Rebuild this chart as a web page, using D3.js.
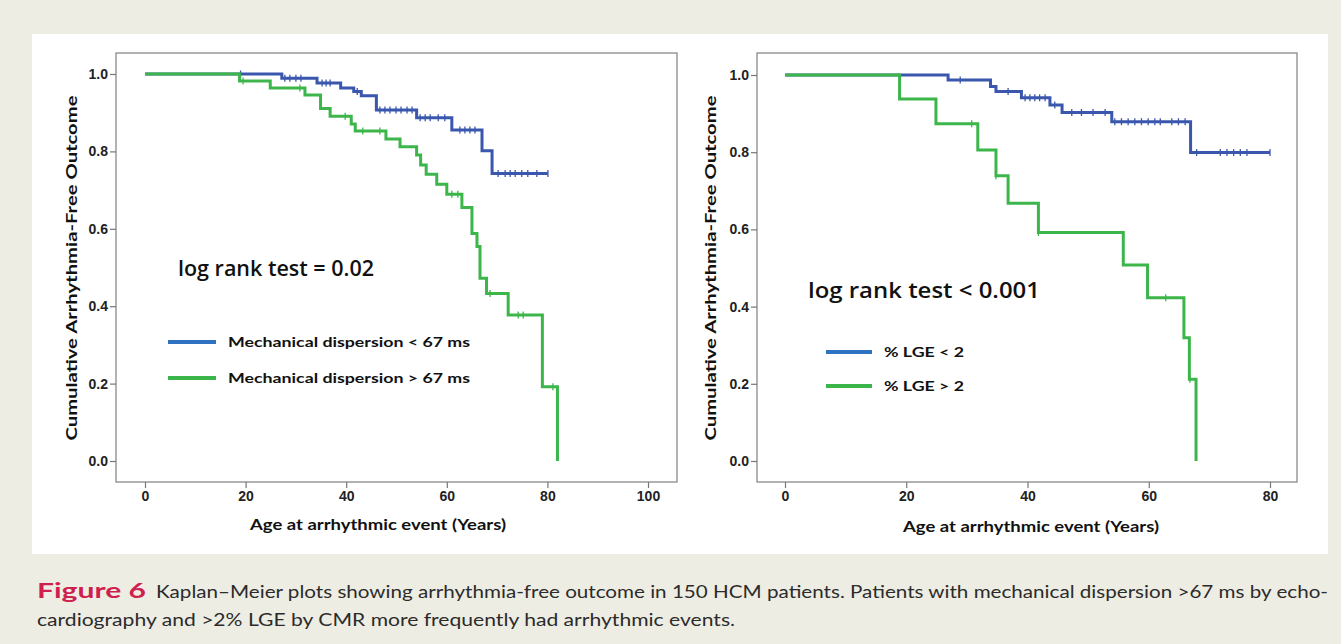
<!DOCTYPE html>
<html>
<head>
<meta charset="utf-8">
<script src="https://cdn.jsdelivr.net/npm/d3@7"></script>
<style>
  body { margin: 0; background: #eeede3; }
  svg { display: block; }
</style>
</head>
<body>
<svg id="chart" width="1341" height="644"></svg>
<script>
// ---- data: [age, survival] at each step ----
var mechLowSteps = [[0, 1], [27.2, 0.989], [34.2, 0.977], [38.9, 0.964], [41.5, 0.955],
  [43.0, 0.944], [46.0, 0.907], [54.0, 0.887], [61.0, 0.855], [67.0, 0.802], [69.0, 0.743]];
var mechLowEnd = 80.1;
var mechLowCensor = [19, 27.8, 28.8, 30.0, 31.0, 35.2, 36.0, 36.8, 42.2, 46.7, 47.7, 48.7, 49.9,
  50.9, 52.1, 53.1, 54.7, 55.7, 56.7, 58.3, 59.6, 62.6, 63.6, 64.6, 65.6, 70.2, 71.6, 72.6,
  73.6, 74.9, 76.1, 77.9, 80.1];

var mechHighSteps = [[0, 1], [18.8, 0.982], [24.9, 0.964], [31.8, 0.946], [34.9, 0.911],
  [36.8, 0.891], [41.0, 0.871], [41.8, 0.853], [47.9, 0.832], [50.7, 0.812], [54.0, 0.791],
  [54.8, 0.765], [55.9, 0.741], [58.0, 0.715], [60.0, 0.689], [63.0, 0.655], [65.0, 0.588],
  [66.0, 0.554], [66.6, 0.472], [67.9, 0.433], [72.2, 0.377], [79.0, 0.192], [82.0, 0]];
var mechHighEnd = 82.0;
var mechHighCensor = [19.5, 30.8, 39.8, 43.3, 46.7, 61.0, 62.2, 68.6, 74.2, 75.2, 81.1];

var lgeLowSteps = [[0, 1], [26.9, 0.987], [33.9, 0.970], [34.8, 0.957], [39.0, 0.941],
  [43.7, 0.922], [45.7, 0.903], [53.9, 0.879], [66.9, 0.799]];
var lgeLowEnd = 80.0;
var lgeLowCensor = [28.9, 36.8, 39.6, 40.4, 41.2, 42.0, 42.9, 44.5, 47.3, 48.9, 50.8, 52.8,
  54.4, 55.5, 56.6, 57.7, 58.8, 59.9, 61.0, 61.9, 63.8, 64.9, 66.0, 67.9, 71.8, 72.9, 74.0,
  75.1, 76.2, 80.0];

var lgeHighSteps = [[0, 1], [18.9, 0.938], [24.9, 0.874], [31.8, 0.806], [34.8, 0.739],
  [36.8, 0.668], [41.8, 0.592], [55.8, 0.508], [59.8, 0.423], [65.8, 0.319], [66.7, 0.212],
  [67.8, 0]];
var lgeHighEnd = 67.8;
var lgeHighCensor = [30.8, 34.8, 41.8, 62.8, 66.8];

var yTicks = [0, 0.2, 0.4, 0.6, 0.8, 1.0];
var xTicksLeft = [0, 20, 40, 60, 80, 100];
var xTicksRight = [0, 20, 40, 60, 80];

var legendLeft = ['Mechanical dispersion < 67  ms', 'Mechanical dispersion > 67  ms'];
var legendRight = ['% LGE < 2', '% LGE > 2'];
var statLeft = 'log rank test = 0.02';
var statRight = 'log rank test < 0.001';
var xTitle = 'Age at arrhythmic event (Years)';
var yTitle = 'Cumulative Arrhythmia-Free Outcome';

var BLUE = '#3a57ad', GREEN = '#3cb54a';
var BLUE_LEG = '#2f72c2', GREEN_LEG = '#3cb54a';
var TITLE_FONT = "Lato, 'Open Sans', sans-serif";
var STAT_FONT = "'Open Sans', Lato, sans-serif";
var TICK_FONT = "'Liberation Sans', Arial, sans-serif";

var svg = d3.select('#chart');

// white panel behind both plots
svg.append('rect')
    .attr('x', 32).attr('y', 34)
    .attr('width', 1296).attr('height', 520)
    .attr('fill', '#ffffff');

function survivalAt(steps, t) {
  let s = 1;
  for (let i = 0; i < steps.length; ++i)
    if (steps[i][0] <= t) s = steps[i][1];
  return s;
}

function drawPanel(cfg) {
  let x = d3.scaleLinear().domain(cfg.xDomain).range(cfg.xRange);
  let y = d3.scaleLinear().domain([0, 1]).range(cfg.yRange);
  let g = svg.append('g');

  // frame
  g.append('rect')
      .attr('x', cfg.frame[0]).attr('y', cfg.frame[1])
      .attr('width', cfg.frame[2] - cfg.frame[0])
      .attr('height', cfg.frame[3] - cfg.frame[1])
      .attr('fill', 'none')
      .attr('stroke', '#8a8a8a')
      .attr('stroke-width', 1.3);

  let yaxis = d3.axisLeft(y).tickValues(yTicks).tickFormat(d3.format('.1f')).tickSize(6).tickPadding(2);
  let gy = g.append('g')
      .attr('transform', 'translate(' + cfg.frame[0] + ',0)')
      .call(yaxis);
  let xaxis = d3.axisBottom(x).tickValues(cfg.xTicks).tickFormat(d3.format('d')).tickSize(6).tickPadding(3);
  let gx = g.append('g')
      .attr('transform', 'translate(0,' + cfg.frame[3] + ')')
      .call(xaxis);
  [gx, gy].forEach(function(a) {
    a.select('.domain').remove();
    a.selectAll('line').attr('stroke', '#777').attr('stroke-width', 1.2);
    a.attr('font-size', null).attr('font-family', null);
    a.selectAll('text')
        .style('font-family', TICK_FONT)
        .style('font-size', '14px')
        .style('font-weight', 'bold')
        .attr('fill', '#222');
  });

  let line = d3.line()
      .x(function(d) { return x(d[0]); })
      .y(function(d) { return y(d[1]); })
      .curve(d3.curveStepAfter);

  cfg.series.forEach(function(s) {
    let pts = s.steps.slice();
    let last = pts[pts.length - 1];
    if (last[0] < s.end) pts.push([s.end, last[1]]);
    g.append('path')
        .datum(pts)
        .attr('fill', 'none')
        .attr('stroke', s.color)
        .attr('stroke-width', 3)
        .attr('d', line);
    g.selectAll(null)
        .data(s.censor)
        .enter().append('line')
        .attr('x1', function(d) { return x(d); })
        .attr('x2', function(d) { return x(d); })
        .attr('y1', function(d) { return y(survivalAt(s.steps, d)) - 3.5; })
        .attr('y2', function(d) { return y(survivalAt(s.steps, d)) + 3.5; })
        .attr('stroke', s.color)
        .attr('stroke-width', 1.3);
  });

  // axis titles
  g.append('text')
      .attr('x', cfg.xTitlePos[0]).attr('y', cfg.xTitlePos[1])
      .attr('text-anchor', 'middle')
      .attr('textLength', cfg.xTitleLen).attr('lengthAdjust', 'spacingAndGlyphs')
      .style('font', "bold 15px " + TITLE_FONT)
      .attr('fill', '#111')
      .text(xTitle);
  g.append('text')
      .attr('transform', 'translate(' + cfg.yTitlePos[0] + ',' + cfg.yTitlePos[1] + ') rotate(-90)')
      .attr('text-anchor', 'middle')
      .attr('textLength', 345).attr('lengthAdjust', 'spacingAndGlyphs')
      .style('font', "bold 15.5px " + TITLE_FONT)
      .attr('fill', '#111')
      .text(yTitle);

  // log rank annotation
  g.append('text')
      .attr('x', cfg.statPos[0]).attr('y', cfg.statPos[1])
      .attr('textLength', cfg.statLen).attr('lengthAdjust', 'spacingAndGlyphs')
      .style('font', "600 22px " + STAT_FONT)
      .attr('fill', '#111')
      .text(cfg.stat);

  // legend
  cfg.legend.forEach(function(lab, i) {
    let ly = cfg.legPos[1] + i * cfg.legGap;
    g.append('line')
        .attr('x1', cfg.legPos[0]).attr('x2', cfg.legPos[0] + cfg.legLine)
        .attr('y1', ly).attr('y2', ly)
        .attr('stroke', i == 0 ? BLUE_LEG : GREEN_LEG)
        .attr('stroke-width', 4);
    g.append('text')
        .attr('x', cfg.legPos[0] + cfg.legLine + 12).attr('y', ly + 5)
        .attr('textLength', cfg.legLen).attr('lengthAdjust', 'spacingAndGlyphs')
        .style('font', "bold 14px " + TITLE_FONT)
        .attr('fill', '#111')
        .text(lab);
  });
}

drawPanel({
  frame: [116, 53, 677, 482],
  xDomain: [0, 100], xRange: [145, 648], yRange: [461, 74],
  xTicks: xTicksLeft,
  series: [
    {steps: mechLowSteps, end: mechLowEnd, censor: mechLowCensor, color: BLUE},
    {steps: mechHighSteps, end: mechHighEnd, censor: mechHighCensor, color: GREEN}
  ],
  xTitlePos: [378, 530], xTitleLen: 256,
  yTitlePos: [77, 268],
  stat: statLeft, statPos: [178, 276], statLen: 196,
  legend: legendLeft, legPos: [168, 342], legGap: 36, legLine: 48, legLen: 242
});

drawPanel({
  frame: [757, 53, 1297, 482],
  xDomain: [0, 80], xRange: [785, 1270], yRange: [461, 75],
  xTicks: xTicksRight,
  series: [
    {steps: lgeLowSteps, end: lgeLowEnd, censor: lgeLowCensor, color: BLUE},
    {steps: lgeHighSteps, end: lgeHighEnd, censor: lgeHighCensor, color: GREEN}
  ],
  xTitlePos: [1031, 532], xTitleLen: 256,
  yTitlePos: [716, 268],
  stat: statRight, statPos: [808, 298], statLen: 232,
  legend: legendRight, legPos: [826, 352], legGap: 34, legLine: 46, legLen: 80
});

// caption
var captionLabel = 'Figure 6';
var captionLine1 = 'Kaplan\u2013Meier plots showing arrhythmia-free outcome in 150 HCM patients. Patients with mechanical dispersion >67 ms by echo-';
var captionLine2 = 'cardiography and >2% LGE by CMR more frequently had arrhythmic events.';
var CAP_FONT = "Lato, 'Open Sans', sans-serif";

svg.append('text')
    .attr('x', 37).attr('y', 598)
    .attr('textLength', 109).attr('lengthAdjust', 'spacingAndGlyphs')
    .style('font', "bold 20px " + CAP_FONT)
    .attr('fill', '#cf1f4f')
    .text(captionLabel);
svg.append('text')
    .attr('x', 156).attr('y', 598)
    .attr('textLength', 1172).attr('lengthAdjust', 'spacingAndGlyphs')
    .style('font', "18px " + CAP_FONT)
    .attr('fill', '#2b2b2b')
    .text(captionLine1);
svg.append('text')
    .attr('x', 37).attr('y', 626)
    .attr('textLength', 698).attr('lengthAdjust', 'spacingAndGlyphs')
    .style('font', "18px " + CAP_FONT)
    .attr('fill', '#2b2b2b')
    .text(captionLine2);
</script>
</body>
</html>
